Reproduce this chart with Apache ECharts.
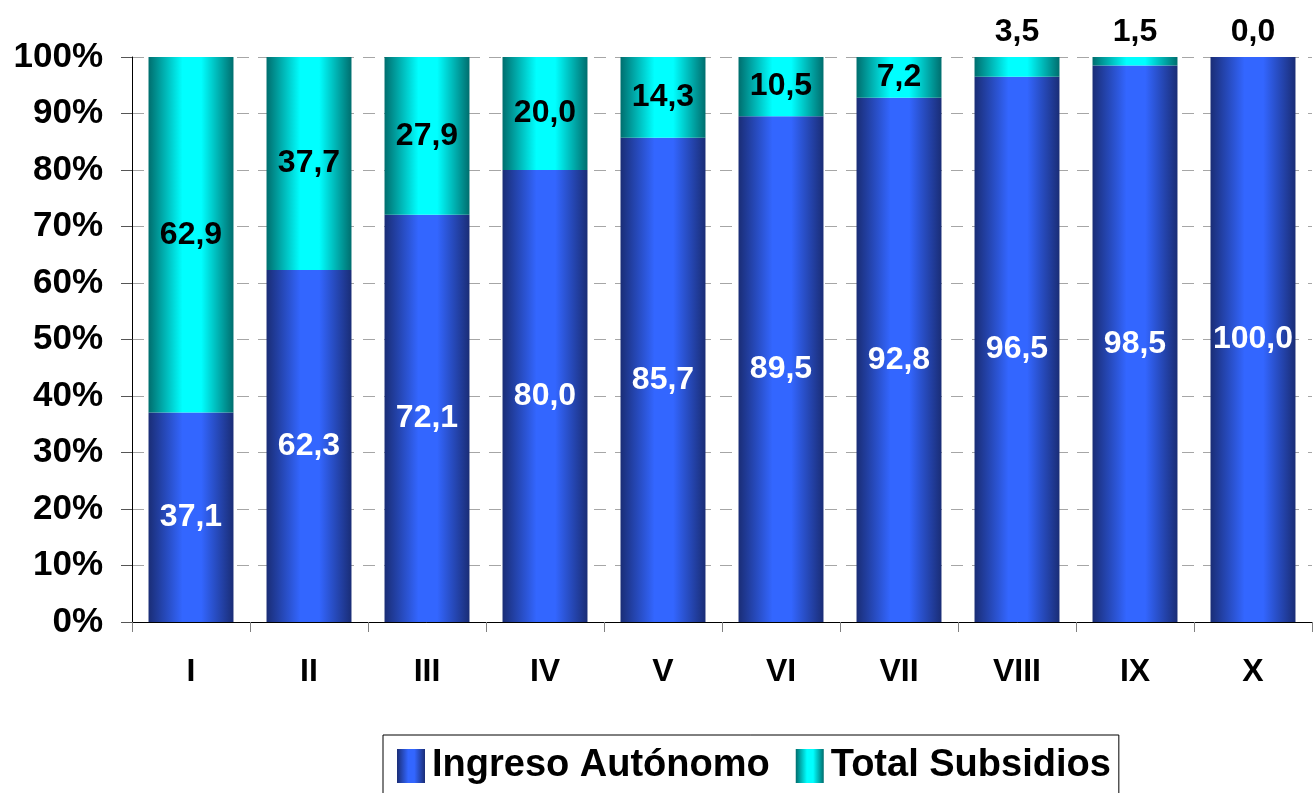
<!DOCTYPE html>
<html>
<head>
<meta charset="utf-8">
<script src="https://cdn.jsdelivr.net/npm/echarts@6/dist/echarts.min.js"></script>
<style>
html,body{margin:0;padding:0;background:#fff;}
#main{width:1315px;height:793px;}
</style>
</head>
<body>
<div id="main"></div>
<script>
//datos del grafico
var categorias = ['I','II','III','IV','V','VI','VII','VIII','IX','X'];
var ingresoAutonomo = [37.1, 62.3, 72.1, 80.0, 85.7, 89.5, 92.8, 96.5, 98.5, 100.0];
var totalSubsidios = [62.9, 37.7, 27.9, 20.0, 14.3, 10.5, 7.2, 3.5, 1.5, 0.0];
var etiquetasY = [0, 10, 20, 30, 40, 50, 60, 70, 80, 90, 100];

var fuente = 'Liberation Sans';

function degradado(borde, centro){
    return new echarts.graphic.LinearGradient(0, 0, 1, 0, [
        {offset: 0, color: borde},
        {offset: 0.4, color: centro},
        {offset: 0.62, color: centro},
        {offset: 1, color: borde}
    ]);
}
//numero con coma decimal
function fmt(p){
    return p.value.toFixed(1).replace('.', ',');
}

var datosSub = totalSubsidios.map(function(v, i){
    var d = {value: v};
    if (v < 5) {
        d.label = {position: 'top', distance: 9};   //los pequeños van arriba
    }
    return d;
});

var myChart = echarts.init(document.getElementById('main'));
var option = {
    animation: false,
    textStyle: {fontFamily: fuente},
    grid: {left: 132, right: 3, top: 57, bottom: 171},
    legend: {
        left: 383,
        top: 735,
        orient: 'horizontal',
        icon: 'rect',
        borderColor: '#000',
        borderWidth: 1,
        padding: [12, 8, 30, 14],
        itemWidth: 28,
        itemHeight: 34,
        itemGap: 26,
        textStyle: {fontFamily: fuente, fontWeight: 'bold', fontSize: 38, color: '#000', padding: [0, 0, 0, 2]},
        data: ['Ingreso Autónomo', 'Total Subsidios']
    },
    xAxis: {
        type: 'category',
        data: categorias,
        axisLine: {lineStyle: {color: '#000', width: 1}},
        axisTick: {show: true, length: 10, lineStyle: {color: '#808080'}},
        axisLabel: {fontFamily: fuente, fontWeight: 'bold', fontSize: 32, color: '#000', margin: 34}
    },
    yAxis: {
        type: 'value',
        min: 0,
        max: 100,
        interval: 10,
        axisLine: {show: true, lineStyle: {color: '#000', width: 1}},
        axisTick: {show: true, length: 11, lineStyle: {color: '#555'}},
        axisLabel: {
            fontFamily: fuente, fontWeight: 'bold', fontSize: 35, color: '#000', margin: 29,
            formatter: function(v){ return v + '%'; }
        },
        splitLine: {show: true, lineStyle: {color: '#a6a6a6', type: [12, 9], width: 1}}
    },
    series: [{
        name: 'Ingreso Autónomo',
        type: 'bar',
        stack: 'total',
        barWidth: '72%',
        data: ingresoAutonomo,
        itemStyle: {color: degradado('#1a2d76', '#3366ff')},
        label: {
            show: true, position: 'inside', formatter: fmt,
            fontFamily: fuente, fontWeight: 'bold', fontSize: 32, color: '#fff'
        }
    }, {
        name: 'Total Subsidios',
        type: 'bar',
        stack: 'total',
        barWidth: '72%',
        data: datosSub,
        itemStyle: {color: degradado('#006e6e', '#00ffff')},
        label: {
            show: true, position: 'inside', formatter: fmt,
            fontFamily: fuente, fontWeight: 'bold', fontSize: 32, color: '#000'
        }
    }]
};
myChart.setOption(option);
</script>
</body>
</html>
